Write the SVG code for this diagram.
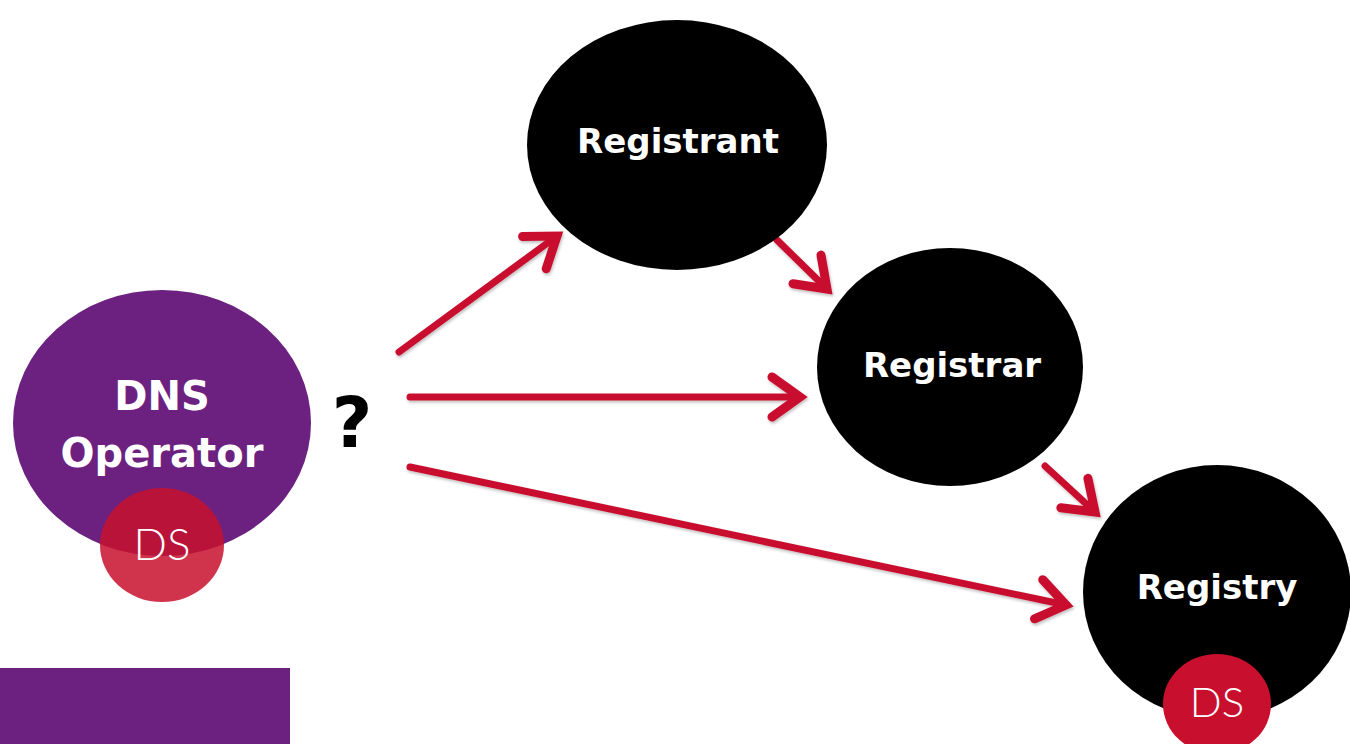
<svg xmlns="http://www.w3.org/2000/svg" width="1350" height="744" viewBox="0 0 1350 744">
<style>
.lbl{font-family:"DejaVu Sans",Lato,sans-serif;font-weight:700;fill:#fff;text-anchor:middle}
.ds{font-family:Lato,"Open Sans",sans-serif;font-weight:300;fill:#fff;text-anchor:middle}
.conn{stroke:#c8102e;stroke-width:7;stroke-linecap:round;fill:none}
</style>
<defs>
<marker id="arr" markerUnits="userSpaceOnUse" markerWidth="60" markerHeight="60" viewBox="-40 -30 50 60" refX="0" refY="0" orient="auto">
<path d="M-28,-20 L0,0 L-28,20" fill="none" stroke="#c8102e" stroke-width="9" stroke-linecap="round" stroke-linejoin="miter"/>
</marker>
<filter id="sh" x="-10%" y="-10%" width="120%" height="130%">
<feDropShadow dx="1" dy="2" stdDeviation="1.5" flood-color="#000" flood-opacity="0.25"/>
</filter>
</defs>
<rect x="0" y="0" width="1350" height="744" fill="#fff"/>
<rect x="0" y="668" width="290" height="76" fill="#6c2180"/>
<g id="connectors" filter="url(#sh)">
<line class="conn" x1="399" y1="352" x2="557" y2="236" marker-end="url(#arr)"/>
<line class="conn" x1="410" y1="397" x2="800" y2="397" marker-end="url(#arr)"/>
<line class="conn" x1="410" y1="467" x2="1066" y2="605" marker-end="url(#arr)"/>
<line class="conn" x1="777" y1="240" x2="827" y2="289" marker-end="url(#arr)"/>
<line class="conn" x1="1045" y1="466" x2="1095" y2="512" marker-end="url(#arr)"/>
</g>
<g id="dns-operator">
<ellipse cx="162" cy="423" rx="149" ry="133" fill="#6c2180"/>
<text class="lbl" x="162" y="410" font-size="40">DNS</text>
<text class="lbl" x="162" y="467" font-size="40">Operator</text>
</g>
<g id="ds-operator">
<ellipse cx="162" cy="545" rx="62" ry="57" fill="#c8102e" fill-opacity="0.85"/>
<text class="ds" x="162" y="560" font-size="44">DS</text>
</g>
<g id="question">
<text x="352" y="447" font-family="'DejaVu Sans',sans-serif" font-weight="700" font-size="70" fill="#000" text-anchor="middle">?</text>
</g>
<g id="registrant">
<ellipse cx="677" cy="145" rx="150" ry="125" fill="#000"/>
<text class="lbl" x="678" y="153" font-size="34">Registrant</text>
</g>
<g id="registrar">
<ellipse cx="950" cy="367" rx="133" ry="119" fill="#000"/>
<text class="lbl" x="952" y="377" font-size="34">Registrar</text>
</g>
<g id="registry">
<ellipse cx="1217" cy="592" rx="134" ry="127" fill="#000"/>
<text class="lbl" x="1217" y="599" font-size="34">Registry</text>
</g>
<g id="ds-registry">
<ellipse cx="1217" cy="704" rx="54" ry="50" fill="#c8102e"/>
<text class="ds" x="1217" y="717" font-size="42">DS</text>
</g>
</svg>
